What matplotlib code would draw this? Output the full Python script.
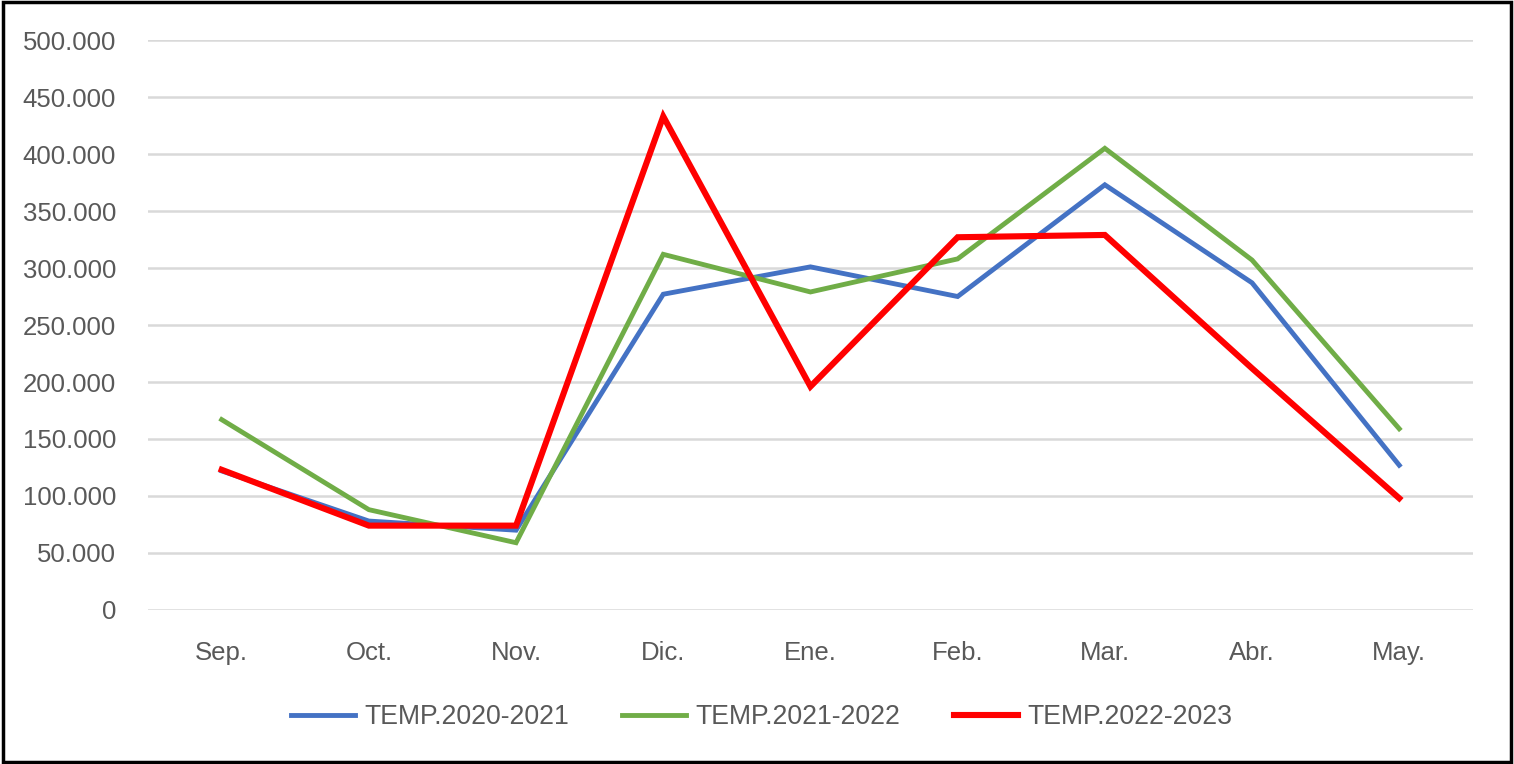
import matplotlib
matplotlib.use("Agg")
import matplotlib.pyplot as plt
from matplotlib.patches import Rectangle
from matplotlib.ticker import FuncFormatter, MultipleLocator

plt.rcParams['font.family'] = ['Liberation Sans', 'DejaVu Sans']

# categories and series
months = ['Sep.', 'Oct.', 'Nov.', 'Dic.', 'Ene.', 'Feb.', 'Mar.', 'Abr.', 'May.']
temp_2020_2021 = [122000, 78000, 70000, 277000, 301000, 275000, 373000, 287000, 127000]
temp_2021_2022 = [167000, 88000, 59000, 312000, 279000, 308000, 405000, 307000, 159000]
temp_2022_2023 = [123000, 74000, 74000, 433000, 196000, 327000, 329000, 212000, 98000]
series_names = ['TEMP.2020-2021', 'TEMP.2021-2022', 'TEMP.2022-2023']

text_gray = '#595959'

fig = plt.figure(figsize=(15.14, 7.64), dpi=100)
ax = fig.add_axes([0.0978, 0.2016, 0.875, 0.746])

x = range(len(months))
ax.plot(x, temp_2020_2021, color='#4472C4', lw=3.5, label=series_names[0], solid_joinstyle='miter')
ax.plot(x, temp_2021_2022, color='#70AD47', lw=3.5, label=series_names[1], solid_joinstyle='miter')
ax.plot(x, temp_2022_2023, color='#FF0000', lw=4.4, label=series_names[2], solid_joinstyle='miter')

ax.set_xlim(-0.5, len(months) - 0.5)
ax.set_ylim(0, 500000)
ax.yaxis.set_major_locator(MultipleLocator(50000))
ax.yaxis.set_major_formatter(FuncFormatter(lambda v, p: '{:,.0f}'.format(v).replace(',', '.')))
ax.set_xticks(list(x))
ax.set_xticklabels(months)
ax.grid(axis='y', color='#D9D9D9', lw=1.8)
ax.set_axisbelow(True)
for s in ax.spines.values():
    s.set_visible(False)
ax.tick_params(axis='both', length=0, labelsize=18.5, labelcolor=text_gray)
ax.tick_params(axis='y', pad=23)
ax.tick_params(axis='x', pad=22)

fig.legend(loc='center', bbox_to_anchor=(0.503, 0.061), ncol=3, frameon=False,
           fontsize=19.2, handlelength=2.4, handletextpad=0.35, columnspacing=2.0,
           labelcolor=text_gray)

fig.patches.append(Rectangle((0.002, 0.003), 0.996, 0.994, transform=fig.transFigure,
                             fill=False, edgecolor='black', lw=2.5))

fig.savefig('out.png', dpi=100)
